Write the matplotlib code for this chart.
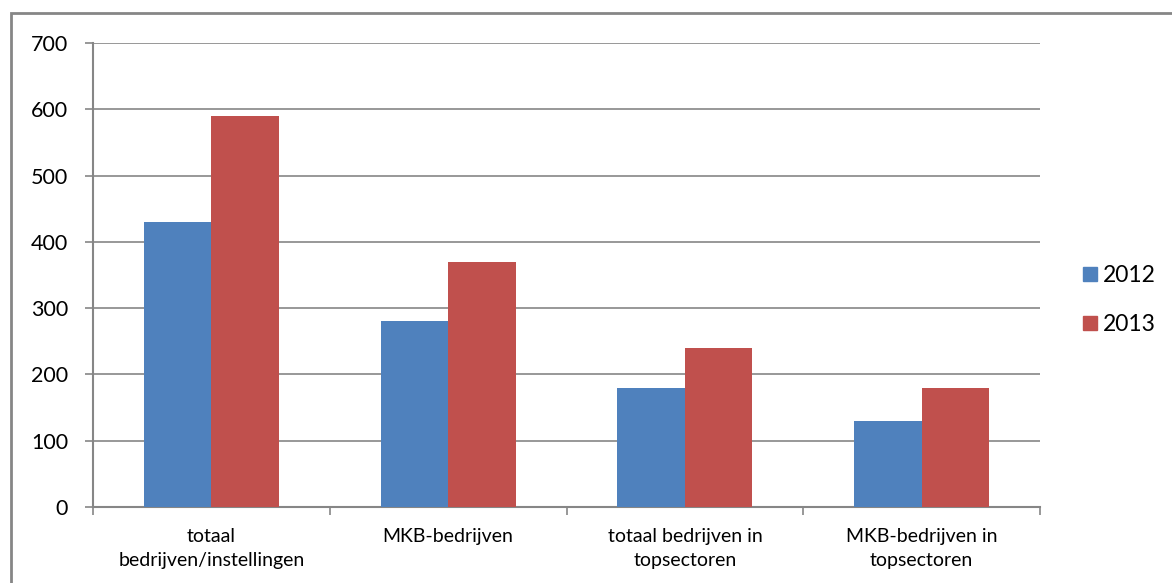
import matplotlib.pyplot as plt
from matplotlib.patches import Rectangle
from matplotlib.lines import Line2D
import numpy as np

plt.rcParams['font.family'] = ['Lato', 'DejaVu Sans']

categories = ['totaal\nbedrijven/instellingen', 'MKB-bedrijven',
              'totaal bedrijven in\ntopsectoren', 'MKB-bedrijven in\ntopsectoren']
series_names = ['2012', '2013']
vals_2012 = [430, 280, 180, 130]
vals_2013 = [590, 370, 240, 180]
colors = ['#4f81bd', '#c0504d']
grey = '#868686'

fig = plt.figure(figsize=(11.72, 5.83), dpi=100)
ax = fig.add_axes([0.0794, 0.1304, 0.808, 0.7958])

# outer chart border (left and top visible)
fig.patches.append(Rectangle((11 / 1172, -0.1), 1.2, 1 - 13 / 583 + 0.1,
                             transform=fig.transFigure, fill=False,
                             edgecolor=grey, linewidth=2))

x = np.arange(len(categories))
w = 0.285
ax.bar(x - w / 2, vals_2012, w, color=colors[0], zorder=3)
ax.bar(x + w / 2, vals_2013, w, color=colors[1], zorder=3)

ax.set_xlim(-0.5, len(categories) - 0.5)
ax.set_ylim(0, 700)
ax.set_yticks(range(0, 701, 100))
ax.yaxis.grid(True, color=grey, linewidth=1.2, zorder=0)
ax.set_axisbelow(True)

ax.set_xticks(x)
ax.set_xticklabels(categories, fontsize=14, linespacing=1.5)
ax.tick_params(axis='x', length=0, pad=15)
ax.set_xticks(np.arange(-0.5, len(categories)), minor=True)
ax.tick_params(axis='x', which='minor', length=6, color=grey, width=1.2, direction='out')
ax.tick_params(axis='y', length=6, color=grey, width=1.2, labelsize=15.5, pad=12)

for s in ['top', 'right']:
    ax.spines[s].set_visible(False)
for s in ['left', 'bottom']:
    ax.spines[s].set_color(grey)
    ax.spines[s].set_linewidth(1.5)

handles = [Line2D([], [], marker='s', linestyle='none', markersize=10,
                  markerfacecolor=c, markeredgecolor=c) for c in colors]
fig.legend(handles, series_names, loc='center left',
           bbox_to_anchor=(1058 / 1172, 1 - 300 / 583), frameon=False,
           fontsize=16.5, labelspacing=1.2, handletextpad=0.05, handlelength=1.0)

fig.savefig('out.png', dpi=100)
